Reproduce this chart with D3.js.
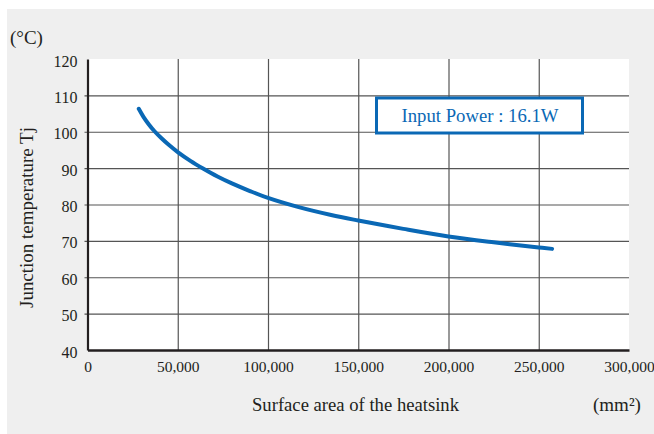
<!DOCTYPE html>
<html>
<head>
<meta charset="utf-8">
<script src="https://cdn.jsdelivr.net/npm/d3@7"></script>
<style>
  html, body { margin: 0; padding: 0; background: #ffffff; }
  svg { display: block; }
  text { font-family: "Liberation Serif", "Times New Roman", serif; fill: #231f20; }
</style>
</head>
<body>
<svg id="chart" width="654" height="434"></svg>
<script>
// ---- data ----
const areaValues = [28400, 31000, 34000, 37000, 41000, 45000, 50000, 57000, 64000, 72000, 80000, 90000, 100000, 116000, 135000, 150000, 175000, 200000, 225000, 250000, 257400];
const tempValues = [106.3, 104.1, 102.0, 100.2, 98.2, 96.4, 94.4, 92.0, 89.9, 87.7, 85.8, 83.7, 81.8, 79.4, 77.1, 75.6, 73.3, 71.2, 69.6, 68.2, 67.8];
const xTicks = [0, 50000, 100000, 150000, 200000, 250000, 300000];
const yTicks = [40, 50, 60, 70, 80, 90, 100, 110, 120];
const seriesLabel = "Input Power : 16.1W";
const xTitle = "Surface area of the heatsink";
const yTitle = "Junction temperature Tj";
const xUnit = "(mm²)";
const yUnit = "(°C)";

const blue = "#0a68b5";
const svg = d3.select("#chart");

// background panel
svg.append("rect").attr("x", 7).attr("y", 9).attr("width", 647).attr("height", 425).attr("fill", "#efefef");

const x = d3.scaleLinear().domain([0, 300000]).range([87.5, 629]);
const y = d3.scaleLinear().domain([40, 120]).range([350, 59]);

// plot area
svg.append("rect")
  .attr("x", x(0)).attr("y", y(120))
  .attr("width", x(300000) - x(0)).attr("height", y(40) - y(120))
  .attr("fill", "#ffffff");

// vertical gridlines
svg.append("g")
  .attr("transform", `translate(0,${y(40)})`)
  .call(d3.axisBottom(x).tickValues(xTicks.filter(d => d > 0 && d < 300000)).tickSize(-(y(40) - y(120))).tickFormat(""))
  .call(g => g.select(".domain").remove())
  .call(g => g.selectAll("line").attr("stroke", "#555").attr("stroke-width", 1.2));

// horizontal gridlines (extending slightly left as ticks)
svg.append("g")
  .attr("transform", `translate(${x(300000)},0)`)
  .call(d3.axisLeft(y).tickValues(yTicks.filter(d => d > 40 && d < 120)).tickSize(x(300000) - x(0) + 3).tickFormat(""))
  .call(g => g.select(".domain").remove())
  .call(g => g.selectAll("line").attr("stroke", "#555").attr("stroke-width", 1.2));

// curve
const pts = areaValues.map((a, i) => [a, tempValues[i]]);
svg.append("path")
  .datum(pts)
  .attr("fill", "none")
  .attr("stroke", blue)
  .attr("stroke-width", 4)
  .attr("stroke-linecap", "round")
  .attr("d", d3.line().x(d => x(d[0])).y(d => y(d[1])).curve(d3.curveCatmullRom.alpha(0.5)));

// left axis
const yAxis = svg.append("g")
  .attr("transform", `translate(${x(0)},0)`)
  .call(d3.axisLeft(y).tickValues(yTicks).tickSize(0).tickPadding(10).tickFormat(d3.format("d")));
yAxis.select(".domain").attr("stroke", "#231f20").attr("stroke-width", 2.2);
yAxis.selectAll("text")
  .attr("font-size", 16).attr("dy", "7px").attr("fill", "#231f20")
  .style("font-family", '"Liberation Serif", serif');

// bottom axis
const xAxis = svg.append("g")
  .attr("transform", `translate(0,${y(40)})`)
  .call(d3.axisBottom(x).tickValues(xTicks).tickSize(0).tickPadding(0).tickFormat(d3.format(",")));
xAxis.select(".domain").attr("stroke", "#231f20").attr("stroke-width", 2.6);
xAxis.selectAll("text")
  .attr("font-size", 15.5).attr("dy", "22px").attr("y", 0).attr("fill", "#231f20")
  .style("font-family", '"Liberation Serif", serif');

// legend box
svg.append("rect")
  .attr("x", 376.5).attr("y", 98).attr("width", 206).attr("height", 35)
  .attr("fill", "#ffffff").attr("stroke", blue).attr("stroke-width", 3);
svg.append("text")
  .attr("x", 480).attr("y", 121.5).attr("text-anchor", "middle")
  .attr("font-size", 18.5).style("fill", blue)
  .attr("textLength", 157).attr("lengthAdjust", "spacingAndGlyphs")
  .text(seriesLabel);

// titles
svg.append("text")
  .attr("x", 355.5).attr("y", 410.5).attr("text-anchor", "middle")
  .attr("font-size", 19).attr("textLength", 207).attr("lengthAdjust", "spacingAndGlyphs")
  .text(xTitle);
svg.append("text")
  .attr("transform", "translate(32.5,217.5) rotate(-90)")
  .attr("text-anchor", "middle")
  .attr("font-size", 19).attr("textLength", 181).attr("lengthAdjust", "spacingAndGlyphs")
  .text(yTitle);
svg.append("text")
  .attr("x", 593).attr("y", 411)
  .attr("font-size", 19)
  .text(xUnit);
svg.append("text")
  .attr("x", 10).attr("y", 44)
  .attr("font-size", 19)
  .text(yUnit);
</script>
</body>
</html>
